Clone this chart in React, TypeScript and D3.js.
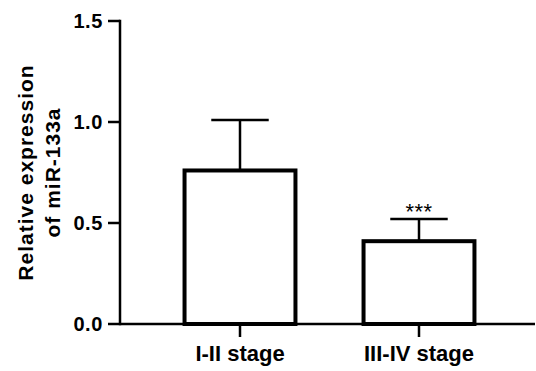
import React from "react";
import * as d3 from "d3";

const categories = ["I-II stage", "III-IV stage"];
const means = [0.76, 0.41];
const errors = [0.25, 0.11];
const yTicks = [0, 0.5, 1.0, 1.5];
const significance = ["", "***"];
const yTitleLines = ["Relative expression", "of miR-133a"];

const W = 536;
const H = 371;
const FONT = "'Liberation Sans', Arial, Helvetica, sans-serif";

export default function App() {
  const y = d3.scaleLinear().domain([0, 1.5]).range([324, 21]);
  const x = d3
    .scaleBand<string>()
    .domain(categories)
    .range([150.5, 508.5])
    .paddingInner(0.358)
    .paddingOuter(0.179);
  const bw = x.bandwidth();
  const axisX = 120;
  const axisRight = 535;

  return (
    <svg
      width={W}
      height={H}
      style={{ position: "absolute", left: 0, top: 0, background: "#fff" }}
      fontFamily={FONT}
    >
      <rect x={0} y={0} width={W} height={H} fill="#fff" />
      {/* bars */}
      {categories.map((c, i) => {
        const x0 = x(c)!;
        const cx = x0 + bw / 2;
        const top = y(means[i]);
        const errTop = y(means[i] + errors[i]);
        return (
          <g key={c}>
            <line x1={cx} x2={cx} y1={top} y2={errTop} stroke="#000" strokeWidth={2.5} />
            <line x1={cx - bw / 4} x2={cx + bw / 4} y1={errTop} y2={errTop} stroke="#000" strokeWidth={2.5} />
            <rect
              x={x0 + 2}
              y={top}
              width={bw - 4}
              height={y(0) - top}
              fill="#fff"
              stroke="#000"
              strokeWidth={4}
            />
            {significance[i] && (
              <text
                x={cx}
                y={errTop}
                textAnchor="middle"
                fontSize={22}
                fill="#000"
                letterSpacing={0.5}
              >
                {significance[i]}
              </text>
            )}
          </g>
        );
      })}
      {/* y axis */}
      <line x1={axisX} x2={axisX} y1={y(1.5) - 1.25} y2={y(0) + 1.25} stroke="#000" strokeWidth={2.5} />
      {yTicks.map((t) => (
        <g key={t}>
          <line x1={axisX - 12} x2={axisX} y1={y(t)} y2={y(t)} stroke="#000" strokeWidth={2.5} />
          <text
            x={axisX - 17}
            y={y(t) + 7}
            textAnchor="end"
            fontSize={20}
            fontWeight="bold"
            letterSpacing={0.6}
            fill="#000"
          >
            {d3.format(".1f")(t)}
          </text>
        </g>
      ))}
      {/* x axis */}
      <line x1={axisX} x2={axisRight} y1={y(0)} y2={y(0)} stroke="#000" strokeWidth={2.5} />
      {categories.map((c) => {
        const cx = x(c)! + bw / 2;
        return (
          <g key={c}>
            <line x1={cx} x2={cx} y1={y(0)} y2={y(0) + 13} stroke="#000" strokeWidth={2.5} />
            <text x={cx} y={361} textAnchor="middle" fontSize={22} fontWeight="bold" fill="#000">
              {c}
            </text>
          </g>
        );
      })}
      {/* y title */}
      {yTitleLines.map((l, i) => (
        <text
          key={l}
          transform={`translate(${33 + i * 27},${(y(0) + y(1.5)) / 2}) rotate(-90)`}
          textAnchor="middle"
          fontSize={21}
          fontWeight="bold"
          letterSpacing={1}
          fill="#000"
        >
          {l}
        </text>
      ))}
    </svg>
  );
}
